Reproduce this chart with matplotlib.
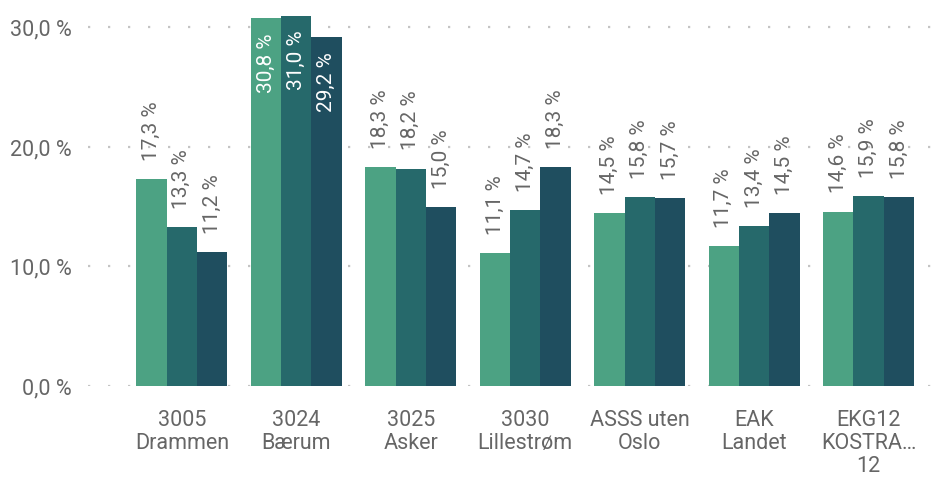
import numpy as np
import matplotlib.pyplot as plt

# --- data ---
categories = ["3005\nDrammen", "3024\nBærum", "3025\nAsker", "3030\nLillestrøm",
              "ASSS uten\nOslo", "EAK\nLandet", "EKG12\nKOSTRA…\n12"]
serie_1 = [17.3, 30.8, 18.3, 11.1, 14.5, 11.7, 14.6]
serie_2 = [13.3, 31.0, 18.2, 14.7, 15.8, 13.4, 15.9]
serie_3 = [11.2, 29.2, 15.0, 18.3, 15.7, 14.5, 15.8]
yticks = [0, 10, 20, 30]

colors = ["#4ca283", "#26696b", "#1f4e5f"]
text_color = "#666666"

plt.rcParams["font.family"] = ["Roboto", "DejaVu Sans"]

fig = plt.figure(figsize=(9.52, 4.79), dpi=100)
ax = fig.add_axes([88 / 952, 93 / 479, 847 / 952, 386 / 479])

x = np.arange(len(categories))
w = 0.265
series = [serie_1, serie_2, serie_3]
for i, vals in enumerate(series):
    pos = x + (i - 1) * w + 0.02
    ax.bar(pos, vals, width=w, color=colors[i], zorder=2)
    for xp, v in zip(pos, vals):
        lbl = f"{v:.1f} %".replace(".", ",")
        if v > 25:
            # innenfor toppen av søylen
            ax.annotate(lbl, (xp, v), xytext=(0, -11), textcoords="offset points",
                        rotation=90, ha="center", va="top", color="white", fontsize=15)
        else:
            ax.annotate(lbl, (xp, v), xytext=(0, 13), textcoords="offset points",
                        rotation=90, ha="center", va="bottom", color=text_color, fontsize=15)

ax.set_xlim(-0.8, 6.6)
ax.set_ylim(0, 32.3)
ax.set_yticks(yticks)
ax.set_yticklabels([f"{t:.1f} %".replace(".", ",") for t in yticks],
                   fontsize=15.5, color=text_color)
ax.set_xticks(x + 0.02)
ax.set_xticklabels(categories, fontsize=15.5, color=text_color, linespacing=1.15)
ax.tick_params(length=0, pad=12)
ax.tick_params(axis="x", pad=17)
ax.grid(axis="y", color="#c4c4c4", linestyle=(0, (1, 8)), linewidth=1.6, zorder=0)
for s in ax.spines.values():
    s.set_visible(False)

plt.savefig("out.png", dpi=100)
